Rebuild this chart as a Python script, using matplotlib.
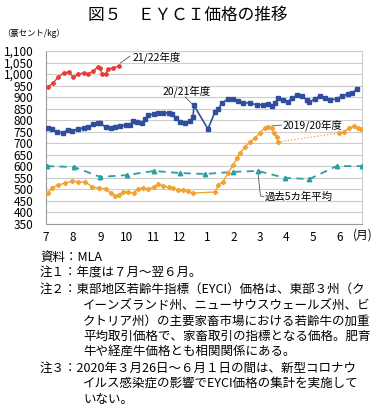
import matplotlib
matplotlib.use("Agg")
import matplotlib.pyplot as plt
from matplotlib.ticker import FuncFormatter

plt.rcParams['font.family'] = ['Noto Sans CJK JP', 'DejaVu Sans']

# x = days since 1 July
fy2122_days = [2, 8, 14, 20, 26, 31, 37, 43, 48, 54, 59, 62, 64, 68, 71, 77, 83]
fy2122_vals = [944, 961, 987, 1005, 1009, 987, 1000, 1005, 1000, 1013, 1031, 1026,
               1000, 1000, 1022, 1026, 1035]

fy2021_days = [2, 7, 13, 19, 25, 30, 36, 43, 48, 54, 59, 62, 68, 74, 79, 85, 91, 96,
               99, 104, 110, 113, 117, 123, 128, 134, 140, 144, 148, 153, 159, 165,
               168, 169, 185, 193, 197, 201, 208, 214, 219, 225, 233, 241, 248, 254,
               258, 262, 265, 271, 276, 281, 287, 292, 298, 301, 307, 313, 319, 324,
               332, 338, 345, 350, 355]
fy2021_vals = [767, 762, 749, 745, 758, 753, 762, 766, 770, 783, 788, 788, 770, 766,
               770, 775, 779, 779, 796, 792, 788, 805, 822, 827, 831, 831, 831, 827,
               809, 792, 788, 796, 814, 864, 762, 836, 849, 875, 892, 892, 883, 875,
               875, 866, 866, 870, 862, 875, 896, 888, 879, 896, 909, 905, 888, 879,
               892, 905, 896, 888, 892, 905, 914, 918, 935]

fy1920_days = [2, 7, 14, 22, 30, 37, 45, 53, 60, 68, 74, 79, 83, 88, 94, 100, 105,
               111, 117, 123, 128, 134, 140, 145, 151, 157, 162, 168, 193, 197, 202,
               208, 214, 218, 222, 227, 233, 239, 244, 250, 254, 258, 260, 264, 265]
fy1920_vals = [484, 506, 519, 528, 536, 532, 532, 510, 506, 502, 484, 471, 476, 489,
               489, 484, 502, 506, 502, 510, 523, 515, 510, 506, 497, 497, 493, 484,
               489, 519, 532, 571, 606, 636, 658, 684, 705, 723, 745, 766, 771, 766,
               745, 727, 705]
fy1920_late_days = [335, 340, 346, 352, 356, 360]
fy1920_late_vals = [745, 749, 766, 775, 766, 762]

avg5_days = [1, 32, 62, 92, 123, 153, 182, 214, 242, 273, 301, 332, 361]
avg5_vals = [601, 597, 554, 562, 580, 571, 567, 576, 580, 550, 545, 601, 601]

month_ticks = [0, 31, 62, 92, 123, 153, 184, 215, 244, 274, 305, 335]
month_labels = ['7', '8', '9', '10', '11', '12', '1', '2', '3', '4', '5', '6']

notes = [
    (0.1058, '資料：MLA'),
    (0.1058, '注１：年度は７月～翌６月。'),
    (0.1058, '注２：東部地区若齢牛指標（EYCI）価格は、東部３州（ク'),
    (0.2196, 'イーンズランド州、ニューサウスウェールズ州、ビ'),
    (0.2196, 'クトリア州）の主要家畜市場における若齢牛の加重'),
    (0.2196, '平均取引価格で、家畜取引の指標となる価格。肥育'),
    (0.2196, '牛や経産牛価格とも相関関係にある。'),
    (0.1058, '注３：2020年３月26日～６月１日の間は、新型コロナウ'),
    (0.2196, 'イルス感染症の影響でEYCI価格の集計を実施して'),
    (0.2196, 'いない。'),
]
note_y = [257, 273, 289, 305, 321, 336, 351, 368, 383, 399]

fig = plt.figure(figsize=(3.78, 4.16), dpi=100)
ax = fig.add_axes([0.1217, 0.4615, 0.836, 0.4159])

red = '#e53e34'
blue = '#2f4f9e'
orange = '#f2a230'
teal = '#2a9ea6'

ax.plot(fy2122_days, fy2122_vals, color=red, lw=1, marker='o', ms=2.4, zorder=4)
ax.plot(fy2021_days, fy2021_vals, color=blue, lw=1.2, marker='s', ms=2.8, zorder=4)
ax.plot(fy1920_days, fy1920_vals, color=orange, lw=1, marker='D', ms=2.2, zorder=4)
ax.plot([fy1920_days[-1], fy1920_late_days[0]], [fy1920_vals[-1], fy1920_late_vals[0]],
        color=orange, lw=0.9, ls=':', zorder=3)
ax.plot(fy1920_late_days, fy1920_late_vals, color=orange, lw=1, marker='D', ms=2.2, zorder=4)
ax.plot(avg5_days, avg5_vals, color=teal, lw=1.3, ls=(0, (4, 3)), marker='^', ms=3.2,
        zorder=3)

ax.set_xlim(0, 361)
ax.set_ylim(350, 1100)
ax.set_yticks(range(350, 1101, 50))
ax.yaxis.set_major_formatter(FuncFormatter(lambda v, p: f'{int(v):,}'))
ax.set_xticks(month_ticks)
ax.set_xticklabels(month_labels)
ax.tick_params(axis='y', length=0, pad=9, labelsize=8.5)
ax.tick_params(axis='x', length=0, pad=5, labelsize=8.5)
ax.grid(axis='y', color='#cccccc', lw=0.8)
ax.set_axisbelow(True)
for s in ['top', 'right']:
    ax.spines[s].set_color('#cccccc')
for s in ['left', 'bottom']:
    ax.spines[s].set_color('#999999')

ax.text(1.003, -0.065, '(月)', transform=ax.transAxes, fontsize=8.5,
        ha='center', va='center')

# labels with leader lines
ax.plot([85, 96], [1048, 1078], color='#555555', lw=0.6)
ax.text(99, 1074, '21/22年度', fontsize=7.5, va='center')
ax.plot([159, 168], [901, 866], color='#555555', lw=0.6)
ax.text(133, 927, '20/21年度', fontsize=7.5, va='center')
ax.plot([258, 269], [775, 779], color='#555555', lw=0.6)
ax.text(270, 779, '2019/20年度', fontsize=7.5, va='center')
ax.plot([242, 245, 249], [578, 472, 467], color='#555555', lw=0.6)
ax.text(250, 467, '過去5カ年平均', fontsize=7.5, va='center')

fig.text(0.496, 0.964, '図５　ＥＹＣＩ価格の推移', fontsize=12, ha='center', va='center')
fig.text(0.005, 0.9207, '（豪セント/kg）', fontsize=6, va='center')

for (x, t), y in zip(notes, note_y):
    fig.text(x, 1 - y / 416, t, fontsize=9, va='center')

fig.savefig('out.png', dpi=100)
